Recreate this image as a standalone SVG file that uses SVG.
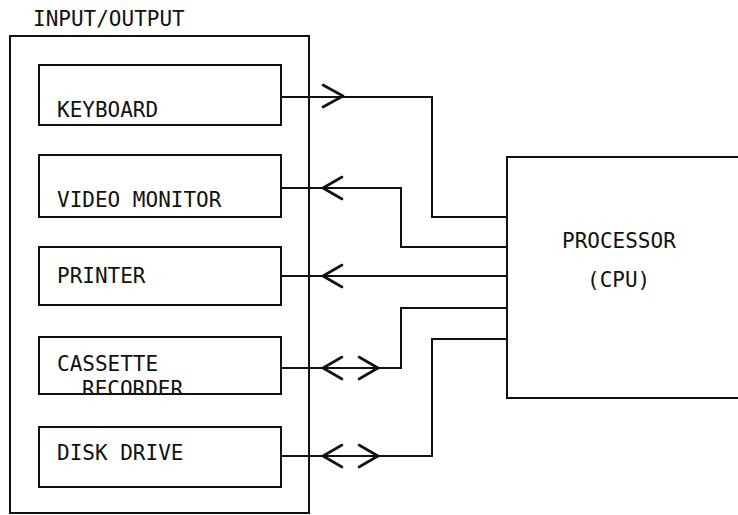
<svg xmlns="http://www.w3.org/2000/svg" width="738" height="515" viewBox="0 0 738 515">
<style>
.box{fill:#fff;stroke:#111;stroke-width:2}
.t{font-family:"DejaVu Sans Mono","Liberation Mono",monospace;font-size:21px;fill:#111}
.c{fill:none;stroke:#111;stroke-width:2}
.a{fill:none;stroke:#111;stroke-width:2.6;stroke-linecap:round;stroke-linejoin:round}
</style>
<defs>
<clipPath id="clipRec"><rect x="39" y="337" width="242" height="57"/></clipPath>
</defs>
<rect width="738" height="515" fill="#fff"/>
<g id="io">
<text class="t" x="33" y="26">INPUT/OUTPUT</text>
<rect class="box" x="10" y="36" width="299" height="477"/>
</g>
<g id="keyboard">
<rect class="box" x="39" y="65" width="242" height="60"/>
<text class="t" x="57" y="117">KEYBOARD</text>
</g>
<g id="video">
<rect class="box" x="39" y="155" width="242" height="62"/>
<text class="t" x="57" y="207">VIDEO MONITOR</text>
</g>
<g id="printer">
<rect class="box" x="39" y="247" width="242" height="58"/>
<text class="t" x="57" y="283">PRINTER</text>
</g>
<g id="cassette">
<rect class="box" x="39" y="337" width="242" height="57"/>
<text class="t" x="57" y="371">CASSETTE</text>
<text class="t" x="82" y="396" clip-path="url(#clipRec)">RECORDER</text>
<line x1="39" y1="394" x2="281" y2="394" stroke="#111" stroke-width="2"/>
</g>
<g id="disk">
<rect class="box" x="39" y="427" width="242" height="60"/>
<text class="t" x="57" y="460">DISK DRIVE</text>
</g>
<g id="cpu">
<path class="c" d="M745,157 H507 V398 H745"/>
<text class="t" x="562" y="248">PROCESSOR</text>
<text class="t" x="587" y="287">(CPU)</text>
</g>
<g id="connectors">
<path class="c" d="M281,97 H432 V217 H507"/>
<path class="c" d="M281,188 H401 V247 H507"/>
<path class="c" d="M281,276 H507"/>
<path class="c" d="M281,368 H401 V308 H507"/>
<path class="c" d="M281,456 H432 V339 H507"/>
<path class="a" d="M323,85 L343,96 L323,107"/>
<path class="a" d="M342,177 L323,188 L342,199"/>
<path class="a" d="M342,265 L323,276 L342,287"/>
<path class="a" d="M342,357 L323,368 L342,379"/>
<path class="a" d="M359,357 L378,368 L359,379"/>
<path class="a" d="M342,445 L323,456 L342,467"/>
<path class="a" d="M359,445 L378,456 L359,467"/>
</g>
</svg>
